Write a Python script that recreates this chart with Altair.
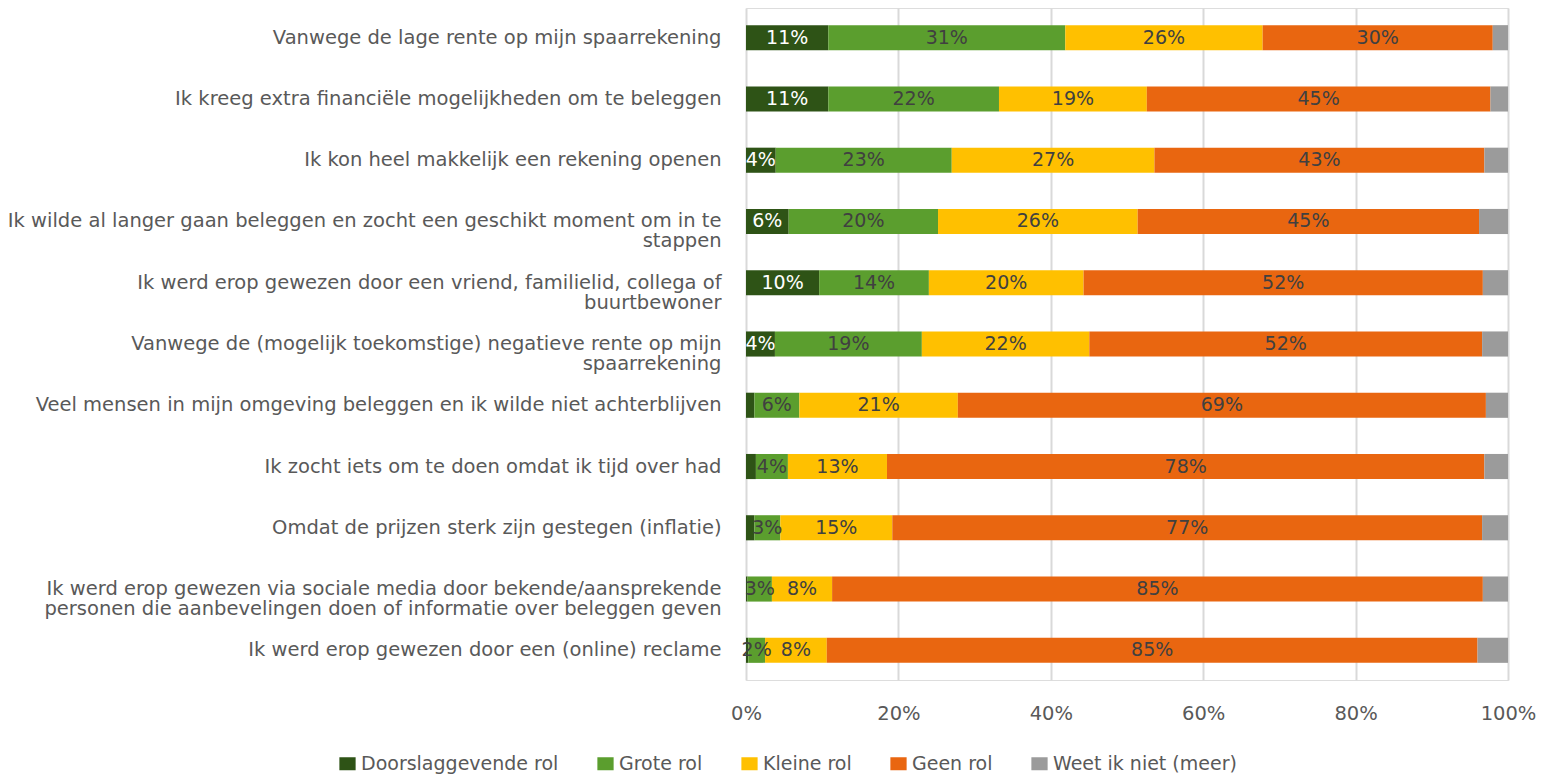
import altair as alt
import pandas as pd

categories = [
    "Vanwege de lage rente op mijn spaarrekening",
    "Ik kreeg extra financiële mogelijkheden om te beleggen",
    "Ik kon heel makkelijk een rekening openen",
    "Ik wilde al langer gaan beleggen en zocht een geschikt moment om in te|stappen",
    "Ik werd erop gewezen door een vriend, familielid, collega of|buurtbewoner",
    "Vanwege de (mogelijk toekomstige) negatieve rente op mijn|spaarrekening",
    "Veel mensen in mijn omgeving beleggen en ik wilde niet achterblijven",
    "Ik zocht iets om te doen omdat ik tijd over had",
    "Omdat de prijzen sterk zijn gestegen (inflatie)",
    "Ik werd erop gewezen via sociale media door bekende/aansprekende|personen die aanbevelingen doen of informatie over beleggen geven",
    "Ik werd erop gewezen door een (online) reclame",
]
series = ["Doorslaggevende rol", "Grote rol", "Kleine rol", "Geen rol", "Weet ik niet (meer)"]
colors = ["#2E5316", "#5B9E2E", "#FFC000", "#E96610", "#9B9B9B"]

doorslaggevend = [10.8, 10.8, 3.9, 5.6, 9.6, 3.8, 1.1, 1.3, 1.1, 0.2, 0.3]
grote = [31.1, 22.4, 23.1, 19.6, 14.4, 19.3, 5.9, 4.2, 3.4, 3.2, 2.2]
kleine = [25.9, 19.4, 26.6, 26.2, 20.3, 22.0, 20.8, 13.0, 14.7, 7.9, 8.1]
geen = [30.2, 45.1, 43.3, 44.8, 52.4, 51.6, 69.3, 78.4, 77.4, 85.4, 85.4]
weet_niet = [2.0, 2.3, 3.1, 3.8, 3.3, 3.4, 2.9, 3.1, 3.4, 3.3, 4.0]

rows = []
for s_idx, (name, vals) in enumerate(zip(series, [doorslaggevend, grote, kleine, geen, weet_niet])):
    for c_idx, (cat, v) in enumerate(zip(categories, vals)):
        rows.append({"category": cat, "series": name, "order": s_idx, "value": v})
df = pd.DataFrame(rows)

FONT = "DejaVu Sans"

base = alt.Chart(df).transform_stack(
    stack="value", groupby=["category"], sort=[alt.SortField("order")],
    as_=["start", "end"], offset="normalize"
)

y_enc = alt.Y(
    "category:N", sort=categories, title=None,
    scale=alt.Scale(paddingInner=0.59, paddingOuter=0.28),
    axis=alt.Axis(
        labelExpr="split(datum.label, '|')", labelAlign="right", labelBaseline="middle",
        labelPadding=25, labelFontSize=19.5, labelColor="#595959", labelFont=FONT,
        labelLineHeight=20, ticks=False, domain=False, labelLimit=800, grid=False,
    ),
)

bars = base.mark_bar().encode(
    y=y_enc,
    x=alt.X(
        "start:Q", title=None,
        scale=alt.Scale(domain=[0, 1], nice=False),
        axis=alt.Axis(
            values=[0, 0.2, 0.4, 0.6, 0.8, 1.0], format=".0%", grid=True,
            gridColor="#D9D9D9", gridWidth=2, ticks=False, domain=False, labelFlush=False,
            labelFontSize=19.5, labelColor="#595959", labelFont=FONT, labelPadding=24,
        ),
    ),
    x2="end:Q",
    color=alt.Color(
        "series:N", sort=series,
        scale=alt.Scale(domain=series, range=colors),
        legend=alt.Legend(
            title=None, orient="none", direction="horizontal", legendX=-408, legendY=746,
            symbolType="M-1.25,-1H1.25V1H-1.25Z", symbolSize=169, symbolStrokeWidth=0,
            labelFontSize=19, labelColor="#595959", labelFont=FONT, columnPadding=37,
            labelOffset=4, columns=5, labelLimit=400,
        ),
    ),
    order=alt.Order("order:Q"),
)

text = base.transform_filter(
    (alt.datum.order < 4) & (alt.datum.value >= 1.5)
).transform_calculate(
    mid="(datum.start + datum.end) / 2",
    lbl="format(datum.value, '.0f') + '%'",
).mark_text(fontSize=19, font=FONT, baseline="middle", align="center").encode(
    y=alt.Y("category:N", sort=categories),
    x=alt.X("mid:Q"),
    text="lbl:N",
    color=alt.condition(alt.datum.order == 0, alt.value("#FFFFFF"), alt.value("#404040")),
)

chart = alt.layer(bars, text).properties(
    width=762, height=672,
    autosize=alt.AutoSizeParams(type="none"),
    padding={"left": 738, "top": 0, "right": 28, "bottom": 94},
).configure_view(stroke=None).configure(background="white")

chart.save("out.html", embed_options={"renderer": "svg", "actions": False})
